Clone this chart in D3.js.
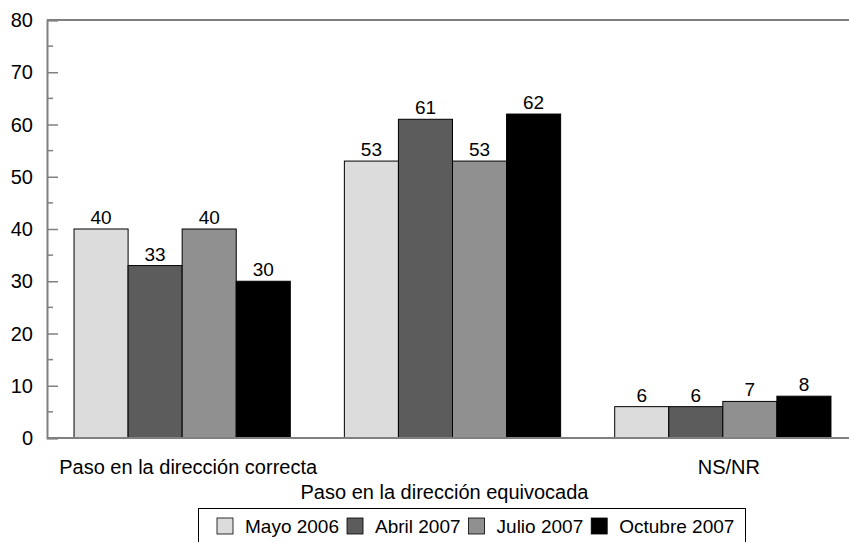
<!DOCTYPE html>
<html><head><meta charset="utf-8">
<script src="https://cdn.jsdelivr.net/npm/d3@7"></script>
<style>body{margin:0;background:#fff;}svg{display:block;font-family:"Liberation Sans",Arial,sans-serif;}</style>
</head><body>
<svg id="c" width="849" height="542"></svg>
<script>
const categories = ["Paso en la dirección correcta", "Paso en la dirección equivocada", "NS/NR"];
const seriesNames = ["Mayo 2006", "Abril 2007", "Julio 2007", "Octubre 2007"];
const mayo2006 = [40, 53, 6];
const abril2007 = [33, 61, 6];
const julio2007 = [40, 53, 7];
const octubre2007 = [30, 62, 8];
const seriesValues = [mayo2006, abril2007, julio2007, octubre2007];
const seriesColors = ["#dcdcdc", "#5c5c5c", "#909090", "#000000"];
const yTicks = [0, 10, 20, 30, 40, 50, 60, 70, 80];

const svg = d3.select("#c");
const pLeft = 47, pRight = 858, pTop = 20, pBottom = 438;

const x0 = d3.scaleBand().domain(categories).range([pLeft, pRight]).paddingInner(0.2).paddingOuter(0.1);
const x1 = d3.scaleBand().domain(seriesNames).range([0, x0.bandwidth()]).padding(0);
const y = d3.scaleLinear().domain([0, 80]).range([pBottom, pTop]);

// frame top line
svg.append("line").attr("x1", pLeft).attr("x2", 849).attr("y1", pTop).attr("y2", pTop)
  .attr("stroke", "#808080").attr("stroke-width", 2);

// bars
const groups = svg.append("g").selectAll("g").data(categories).join("g")
  .attr("transform", d => `translate(${x0(d)},0)`);
groups.selectAll("rect").data((d, i) => seriesNames.map((s, j) => ({s, v: seriesValues[j][i], c: seriesColors[j]})))
  .join("rect")
  .attr("x", d => x1(d.s)).attr("width", x1.bandwidth())
  .attr("y", d => y(d.v)).attr("height", d => y(0) - y(d.v))
  .attr("fill", d => d.c).attr("stroke", "#000").attr("stroke-width", 1);
groups.selectAll("text").data((d, i) => seriesNames.map((s, j) => ({s, v: seriesValues[j][i]})))
  .join("text")
  .attr("x", d => x1(d.s) + x1.bandwidth() / 2).attr("y", d => y(d.v) - 5)
  .attr("text-anchor", "middle").attr("font-size", 19).attr("fill", "#000")
  .text(d => d.v);

// x axis baseline
svg.append("line").attr("x1", pLeft).attr("x2", 849).attr("y1", pBottom).attr("y2", pBottom)
  .attr("stroke", "#808080").attr("stroke-width", 2);

// y axis
const yAxis = d3.axisRight(y).tickValues(yTicks).tickSize(11).tickFormat("");
const ga = svg.append("g").attr("transform", `translate(${pLeft},0)`).call(yAxis);
ga.select(".domain").attr("stroke", "#808080").attr("stroke-width", 2);
ga.selectAll(".tick line").attr("stroke", "#808080").attr("stroke-width", 1.5);
const minor = d3.range(5, 80, 10);
ga.selectAll(".minor").data(minor).join("line").attr("class", "minor")
  .attr("x1", 0).attr("x2", 6).attr("y1", d => y(d)).attr("y2", d => y(d))
  .attr("stroke", "#808080").attr("stroke-width", 1.5);
svg.append("g").selectAll("text").data(yTicks).join("text")
  .attr("x", 33).attr("y", d => y(d) + 7).attr("text-anchor", "end")
  .attr("font-size", 20).attr("fill", "#000").text(d => d);

// category labels (staggered)
svg.append("g").selectAll("text").data(categories).join("text")
  .attr("x", (d, i) => x0(d) + x0.bandwidth() / 2 + (i === 1 ? -8 : 6))
  .attr("y", (d, i) => i === 1 ? 499 : 474)
  .attr("text-anchor", "middle").attr("font-size", 20).attr("fill", "#000").text(d => d);

// legend
const lg = svg.append("g");
lg.append("rect").attr("x", 198.5).attr("y", 508.5).attr("width", 547).attr("height", 40)
  .attr("fill", "#fff").attr("stroke", "#000").attr("stroke-width", 1);
let lx = 217;
seriesNames.forEach((s, j) => {
  lg.append("rect").attr("x", lx).attr("y", 518).attr("width", 16).attr("height", 16)
    .attr("fill", seriesColors[j]).attr("stroke", "#000").attr("stroke-width", 0.8);
  const t = lg.append("text").attr("x", lx + 28).attr("y", 533).attr("font-size", 19)
    .attr("fill", "#000").text(s);
  lx = lx + 28 + t.node().getComputedTextLength() + 8;
});
</script>
</body></html>
